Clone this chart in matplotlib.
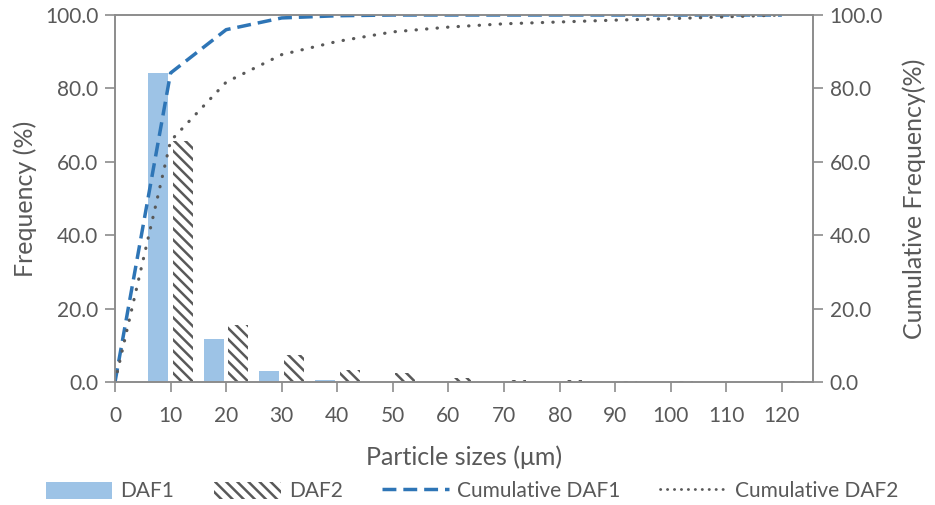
import numpy as np
import matplotlib
matplotlib.use("Agg")
import matplotlib.pyplot as plt
from matplotlib.patches import Patch
from matplotlib.lines import Line2D

plt.rcParams['font.family'] = ['Lato', 'DejaVu Sans']
plt.rcParams['hatch.linewidth'] = 1.8

# data
sizes = [10, 20, 30, 40, 50, 60, 70, 80, 90, 100, 110, 120]
daf1 = [84.2, 11.6, 2.9, 0.6, 0.0, 0.0, 0.0, 0.0, 0.0, 0.0, 0.0, 0.0]
daf2 = [65.7, 15.5, 7.4, 3.4, 2.4, 1.1, 0.5, 0.6, 0.2, 0.3, 0.0, 0.3]
cum_x = [0, 10, 20, 30, 40, 50, 60, 70, 80, 90, 100, 110, 120]
cum_daf1 = [0, 84.2, 96.0, 99.2, 99.8, 100, 100, 100, 100, 100, 100, 100, 100]
cum_daf2 = [0, 65.7, 81.7, 89.2, 92.8, 95.4, 96.7, 97.6, 98.1, 98.6, 99.0, 99.5, 100]

txt = '#595959'
spine = '#8c8c8c'
dash = (0, (4, 2))
dots = (0, (0.1, 3.2))

fig = plt.figure(figsize=(9.35, 5.05), dpi=100)
ax = fig.add_axes([0.123, 0.2436, 0.7465, 0.7267])

x = np.array(sizes)
ax.bar(x - 2.2, daf1, width=3.6, color='#9DC3E6', linewidth=0)
ax.bar(x + 2.2, daf2, width=3.6, facecolor='white', edgecolor='#595959',
       hatch='\\\\\\', linewidth=0)

ax.set_xlim(0, 125.6)
ax.set_ylim(0, 100)
ax.set_xticks(np.arange(0, 121, 10))
ax.set_yticks(np.arange(0, 101, 20))
ax.yaxis.set_major_formatter(matplotlib.ticker.FormatStrFormatter('%.1f'))
ax.set_xlabel('Particle sizes (μm)', fontsize=18, color=txt, labelpad=14)
ax.set_ylabel('Frequency (%)', fontsize=18, color=txt, labelpad=6)

ax2 = ax.twinx()
ax2.plot(cum_x, cum_daf1, color='#2E75B6', lw=2.5, linestyle=dash)
ax2.plot(cum_x, cum_daf2, color='#595959', lw=2.3, linestyle=dots,
         dash_capstyle='round')
ax2.set_ylim(0, 100)
ax2.set_yticks(np.arange(0, 101, 20))
ax2.yaxis.set_major_formatter(matplotlib.ticker.FormatStrFormatter('%.1f'))
ax2.set_ylabel('Cumulative Frequency(%)', fontsize=18, color=txt, labelpad=14)

for a in (ax, ax2):
    for s in a.spines.values():
        s.set_color(spine)
        s.set_linewidth(1.2)
    a.tick_params(colors=spine, labelcolor=txt, labelsize=15, length=7, width=1.2)
ax.tick_params(axis='x', pad=10)
ax.tick_params(axis='y', pad=5)
ax2.tick_params(axis='y', pad=5)

handles = [
    Patch(facecolor='#9DC3E6', linewidth=0),
    Patch(facecolor='white', edgecolor='#595959', hatch='\\\\\\', linewidth=0),
    Line2D([], [], color='#2E75B6', lw=2.5, linestyle=dash),
    Line2D([], [], color='#595959', lw=2.0, linestyle=(0, (0.1, 2.4)), dash_capstyle='round'),
]
labels = ['DAF1', 'DAF2', 'Cumulative DAF1', 'Cumulative DAF2']
leg = fig.legend(handles, labels, loc='lower center', bbox_to_anchor=(0.505, -0.03),
                 ncol=4, frameon=False, fontsize=15, handlelength=3.2,
                 handleheight=0.9, columnspacing=1.9, handletextpad=0.4)
for t in leg.get_texts():
    t.set_color(txt)

fig.savefig('out.png', dpi=100)
